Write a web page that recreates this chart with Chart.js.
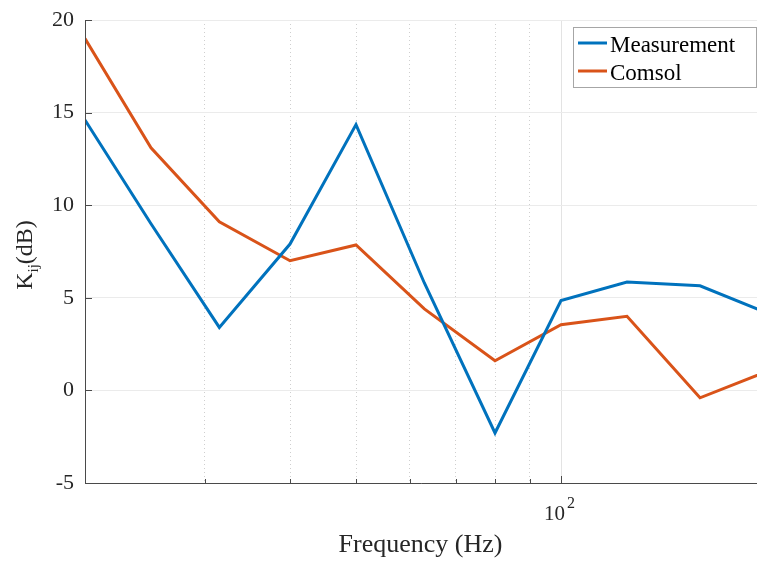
<!DOCTYPE html>
<html lang="en">
<head>
  <meta charset="UTF-8" />
  <title>Kij vs frequency</title>
  <script src="https://cdn.jsdelivr.net/npm/chart.js"></script>
  <style>
    body { margin: 0; background: white; }
    canvas { display: block; }
  </style>
</head>
<body>
  <canvas id="kijChart" width="758" height="563"></canvas>

  <script>
    // third-octave band centres (Hz)
    const freqs = [20, 25, 31.5, 40, 50, 63, 80, 100, 125, 160, 200];
    const measurement = [14.6, 9.0, 3.4, 7.9, 14.35, 5.8, -2.3, 4.85, 5.85, 5.65, 4.2];
    const comsol = [19.0, 13.1, 9.1, 7.0, 7.85, 4.4, 1.6, 3.55, 4.0, -0.4, 1.0];
    const xTicks = [20, 30, 40, 50, 60, 70, 80, 90, 100];
    const yTicks = [-5, 0, 5, 10, 15, 20];

    const SERIF = '"Liberation Serif", "Times New Roman", serif';
    const AXIS = '#4a4a4a';

    const matlabAxes = {
      id: 'matlabAxes',
      afterDatasetsDraw(chart) {
        const { ctx, chartArea: a, scales: { x, y } } = chart;
        ctx.save();
        ctx.strokeStyle = AXIS;
        ctx.lineWidth = 1;
        ctx.beginPath();
        ctx.moveTo(a.left + 0.5, a.top);
        ctx.lineTo(a.left + 0.5, a.bottom + 0.5);
        ctx.lineTo(a.right, a.bottom + 0.5);
        // inward ticks
        y.ticks.forEach(t => {
          const py = Math.round(y.getPixelForValue(t.value)) + 0.5;
          ctx.moveTo(a.left, py);
          ctx.lineTo(a.left + 7, py);
        });
        x.ticks.forEach(t => {
          const px = Math.round(x.getPixelForValue(t.value)) + 0.5;
          const len = t.value === 100 ? 7 : 4;
          ctx.moveTo(px, a.bottom);
          ctx.lineTo(px, a.bottom - len);
        });
        ctx.stroke();

        // x tick label 10^2
        ctx.fillStyle = '#262626';
        const p100 = x.getPixelForValue(100);
        ctx.font = '21px ' + SERIF;
        ctx.textBaseline = 'alphabetic';
        ctx.textAlign = 'right';
        ctx.fillText('10', p100 + 4, 520);
        ctx.textAlign = 'left';
        ctx.font = '16px ' + SERIF;
        ctx.fillText('2', p100 + 6, 508);

        // x title
        ctx.font = '26px ' + SERIF;
        ctx.textAlign = 'center';
        ctx.fillText('Frequency (Hz)', (a.left + a.right) / 2 - 0.5, 552);

        // y title, rotated, K with subscript ij
        ctx.translate(32, 255);
        ctx.rotate(-Math.PI / 2);
        const big = '24px ' + SERIF, small = '15px ' + SERIF;
        ctx.font = big;
        const wK = ctx.measureText('K').width;
        const wDB = ctx.measureText('(dB)').width;
        ctx.font = small;
        const wIJ = ctx.measureText('ij').width;
        let cx = -(wK + wIJ + wDB) / 2;
        ctx.textAlign = 'left';
        ctx.font = big;
        ctx.fillText('K', cx, 0);
        cx += wK;
        ctx.font = small;
        ctx.fillText('ij', cx, 6);
        cx += wIJ;
        ctx.font = big;
        ctx.fillText('(dB)', cx, 0);
        ctx.restore();
      },
      afterDraw(chart) {
        const { ctx } = chart;
        const bx = 573, by = 27, bw = 184, bh = 61;
        ctx.save();
        ctx.fillStyle = 'white';
        ctx.fillRect(bx, by, bw, bh);
        ctx.strokeStyle = '#a6a6a6';
        ctx.lineWidth = 1;
        ctx.strokeRect(bx + 0.5, by + 0.5, bw - 1, bh - 1);
        ctx.font = '23px ' + SERIF;
        ctx.textBaseline = 'alphabetic';
        ctx.textAlign = 'left';
        const rows = [43, 71];
        chart.data.datasets.forEach((ds, i) => {
          ctx.strokeStyle = ds.borderColor;
          ctx.lineWidth = 3;
          ctx.beginPath();
          ctx.moveTo(578, rows[i]);
          ctx.lineTo(607, rows[i]);
          ctx.stroke();
          ctx.fillStyle = '#000';
          ctx.fillText(ds.label, 610, rows[i] + 9);
        });
        ctx.restore();
      }
    };

    const ctx = document.getElementById('kijChart').getContext('2d');
    new Chart(ctx, {
      type: 'line',
      data: {
        datasets: [
          { label: 'Measurement', data: freqs.map((f, i) => ({ x: f, y: measurement[i] })),
            borderColor: '#0072bd', borderWidth: 3, pointRadius: 0, tension: 0, fill: false },
          { label: 'Comsol', data: freqs.map((f, i) => ({ x: f, y: comsol[i] })),
            borderColor: '#d95319', borderWidth: 3, pointRadius: 0, tension: 0, fill: false }
        ]
      },
      options: {
        responsive: false,
        animation: false,
        layout: { padding: { top: 20, right: 1, left: 0, bottom: 0 } },
        plugins: { legend: { display: false }, tooltip: { enabled: false } },
        scales: {
          x: {
            type: 'logarithmic',
            min: 20,
            max: 194,
            afterBuildTicks: s => { s.ticks = xTicks.map(v => ({ value: v })); },
            afterFit: s => { s.height = 80; s.paddingLeft = 0; s.paddingRight = 0; },
            ticks: { display: false },
            grid: {
              drawTicks: false,
              color: c => (c.tick && c.tick.value === 100) ? '#e3e3e3' : '#cfcfcf'
            },
            border: {
              display: false,
              dash: c => (c.tick && c.tick.value !== 100) ? [1, 3] : []
            }
          },
          y: {
            min: -5,
            max: 20,
            afterBuildTicks: s => { s.ticks = yTicks.map(v => ({ value: v })); },
            afterFit: s => { s.width = 85; s.paddingTop = 0; s.paddingBottom = 0; },
            ticks: {
              padding: 11,
              color: '#262626',
              font: { family: SERIF, size: 22 },
              callback: v => String(v)
            },
            grid: { drawTicks: false, color: '#ebebeb' },
            border: { display: false }
          }
        }
      },
      plugins: [matlabAxes]
    });
  </script>
</body>
</html>
